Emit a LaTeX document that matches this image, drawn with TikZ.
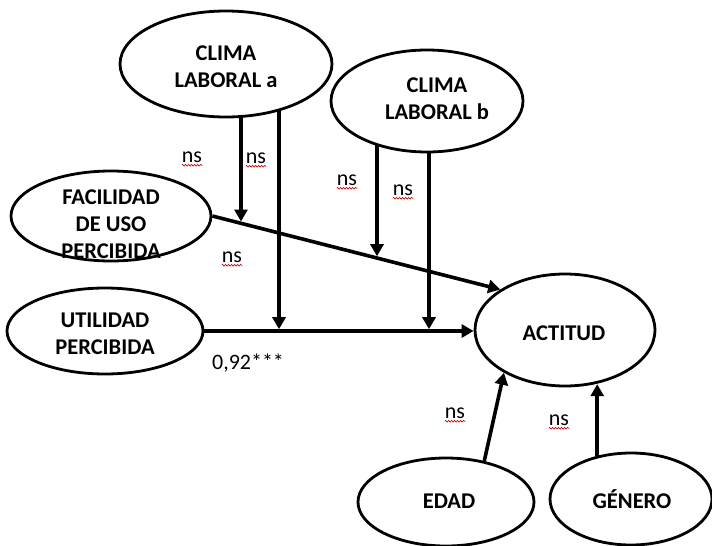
\documentclass[tikz,border=0pt]{standalone}
\usepackage{fontspec}
\setmainfont{Carlito}
\usetikzlibrary{arrows.meta,backgrounds,shapes.geometric,decorations.pathmorphing}
\begin{document}
\begin{tikzpicture}[x=1pt,y=-1pt,
  construct/.style={draw, ellipse, line width=2.8pt, fill=white, inner sep=0pt},
  lbl/.style={font=\bfseries\fontsize{22.5}{27}\selectfont, align=center, inner sep=0pt},
  coef/.style={font=\fontsize{22}{26}\selectfont, inner sep=0pt},
  effect/.style={line width=3.6pt, -{Triangle[length=12pt,width=13pt]}},
  squig/.style={draw=red!75!black, line width=0.6pt, decorate,
                decoration={snake, amplitude=0.9pt, segment length=3pt}}]
\path[use as bounding box, clip] (0,0) rectangle (712,546);

% latent constructs
\node[construct, minimum width=212pt, minimum height=106pt] (ca)  at (226,64)  {};
\node[construct, minimum width=192pt, minimum height=102pt] (cb)  at (427,101) {};
\node[construct, minimum width=200pt, minimum height=90pt]  (fac) at (111,216) {};
\node[construct, minimum width=196pt, minimum height=86pt]  (utl) at (105,331) {};
\node[construct, minimum width=180pt, minimum height=112pt] (act) at (565,330) {};
\node[construct, minimum width=176pt, minimum height=88pt]  (eda) at (446,502) {};
\node[construct, minimum width=162pt, minimum height=92pt]  (gen) at (631,499) {};

% construct names
\node[lbl] (ca-t)  at (226,67)   {CLIMA\\LABORAL a};
\node[lbl] (cb-t)  at (437,99)   {CLIMA\\LABORAL b};
\node[lbl] (fac-t) at (111,224)  {FACILIDAD\\DE USO\\PERCIBIDA};
\node[lbl] (utl-t) at (105,333.5){UTILIDAD\\PERCIBIDA};
\node[lbl, anchor=base] (act-t) at (564,340) {ACTITUD};
\node[lbl, anchor=base] (eda-t) at (449,508) {EDAD};
\node[lbl, anchor=base] (gen-t) at (632,508) {GÉNERO};

% direct effects on attitude
\draw[effect] (fac.east) -- (act.148);
\draw[effect] (utl.east) -- (utl.east -| act.west);
\draw[effect] (eda.47) -- (act.215);
\draw[effect] (gen.128) -- (gen.128 |- act.-61);

% moderating effects of the work climate
\coordinate (xa1) at (241,0);
\coordinate (xa2) at (279,0);
\coordinate (xb1) at (377,0);
\coordinate (xb2) at (429,0);
\coordinate (ma1) at (intersection of fac.east--act.148 and 241,0--241,400);
\coordinate (mb1) at (intersection of fac.east--act.148 and 377,0--377,400);
\coordinate (ma2) at (utl.east -| xa2);
\coordinate (mb2) at (utl.east -| xb2);
\begin{scope}[on background layer]
  \draw[effect, shorten >=1.8pt] (ca.center -| xa1) -- (ma1);
  \draw[effect, shorten >=1.8pt] (ca.center -| xa2) -- (ma2);
  \draw[effect, shorten >=1.8pt] (cb.center -| xb1) -- (mb1);
  \draw[effect, shorten >=1.8pt] (cb.center -| xb2) -- (mb2);
\end{scope}

% path coefficients
\node[coef] (n1) at (192,157) {ns};
\node[coef] (n2) at (256,158) {ns};
\node[coef] (n3) at (347,180) {ns};
\node[coef] (n4) at (403,190) {ns};
\node[coef] (n5) at (232,257) {ns};
\node[coef] (n6) at (455,413) {ns};
\node[coef] (n7) at (559,420) {ns};
\node[coef, anchor=base] (b1) at (248,369) {0,92***};
\foreach \n in {n1,n2,n3,n4,n5,n6,n7}
  \draw[squig] ([yshift=-3pt]\n.base west) -- ([yshift=-3pt]\n.base east);
\end{tikzpicture}
\end{document}
